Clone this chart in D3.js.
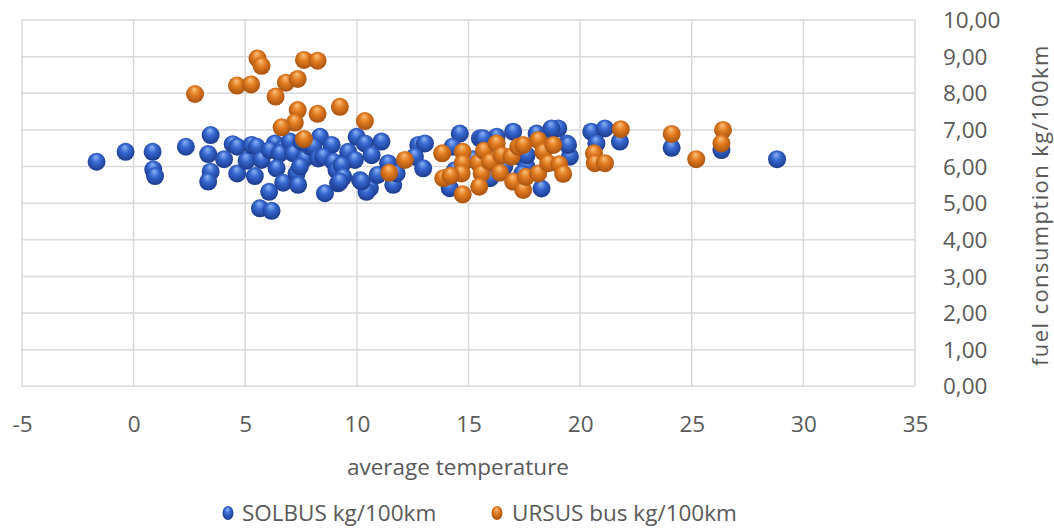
<!DOCTYPE html>
<html><head><meta charset="utf-8">
<script src="https://cdn.jsdelivr.net/npm/d3@7"></script>
<style>
html,body{margin:0;padding:0;background:#fff;}
svg text{font-family:"Open Sans","Noto Sans",sans-serif;fill:#595959;}
</style></head>
<body><svg id="c" width="1054" height="530"></svg>
<script>
// ---- data ----
const xTicks = [-5, 0, 5, 10, 15, 20, 25, 30, 35];
const yTicks = [0, 1, 2, 3, 4, 5, 6, 7, 8, 9, 10];
const seriesNames = ["SOLBUS kg/100km", "URSUS bus kg/100km"];

const solbusTemp = [-1.66,-0.36,0.85,0.88,0.96,2.34,3.45,3.34,3.45,3.34,4.05,4.44,4.64,4.64,5.06,5.28,5.51,5.43,5.73,6.07,5.66,6.18,6.33,6.10,6.70,6.55,6.40,6.70,7.00,7.15,7.30,7.37,7.67,7.52,7.90,7.45,8.35,8.05,8.87,8.27,8.49,8.94,8.57,9.09,9.16,9.54,9.99,10.36,11.10,10.66,9.61,9.91,9.32,9.39,10.14,10.58,10.93,11.63,11.40,11.78,12.75,13.05,12.60,12.97,14.61,15.51,16.26,17.00,14.28,17.30,17.60,14.16,15.96,18.05,18.57,19.02,19.40,19.54,18.27,20.50,21.11,20.73,21.78,24.10,26.33,28.82,15.66,19.46,17.60,10.43,10.21,9.24,18.72,14.40,16.60,17.40,15.20];
const solbusFuel = [6.13,6.40,6.40,5.92,5.74,6.54,6.86,6.34,5.86,5.59,6.20,6.61,6.54,5.81,6.16,6.59,6.54,5.74,6.18,5.31,4.86,4.79,6.63,6.45,6.50,6.36,5.95,5.56,6.68,6.36,5.81,5.50,6.22,6.68,6.54,6.00,6.81,6.54,6.59,6.22,6.27,6.13,5.27,5.90,5.54,6.18,6.81,6.63,6.68,6.31,6.40,6.18,6.04,5.72,5.63,5.41,5.77,5.50,6.09,5.81,6.59,6.63,6.27,5.95,6.90,6.77,6.81,6.95,6.54,6.27,6.00,5.41,5.68,6.90,6.90,7.04,6.63,6.27,5.40,6.95,7.04,6.63,6.68,6.51,6.45,6.20,6.77,6.59,6.31,5.31,5.59,5.59,7.04,5.90,6.00,5.80,6.20];

const ursusTemp = [2.75,4.63,5.26,5.55,5.73,6.36,6.82,7.35,7.63,8.24,7.35,8.24,9.24,10.36,7.22,6.63,7.63,12.15,11.45,13.82,13.87,14.74,14.74,14.69,14.74,15.44,15.59,15.48,15.69,16.26,15.96,16.48,16.41,16.93,17.23,17.00,17.45,17.57,18.12,18.35,18.80,18.12,18.57,19.06,19.24,17.45,20.62,20.66,21.11,21.82,24.10,25.20,26.40,26.33,14.20];
const ursusFuel = [7.98,8.21,8.24,8.95,8.75,7.91,8.29,8.39,8.91,8.89,7.54,7.44,7.63,7.24,7.20,7.07,6.75,6.18,5.83,6.36,5.68,6.40,6.09,5.81,5.24,6.10,5.81,5.45,6.43,6.63,6.13,6.31,5.83,6.27,6.54,5.59,5.36,5.72,6.72,6.40,6.59,5.81,6.09,6.06,5.80,6.59,6.36,6.09,6.09,7.02,6.89,6.20,7.00,6.63,5.75];

// ---- layout ----
const svg = d3.select("#c");
const x = d3.scaleLinear().domain([-5, 35]).range([22, 915]);
const y = d3.scaleLinear().domain([0, 10]).range([386.3, 20]);
const fmt = v => d3.format(".2f")(v).replace(".", ",");

const defs = svg.append("defs");
function grad(id, hi, mid, edge) {
  const g = defs.append("radialGradient").attr("id", id)
    .attr("cx", "50%").attr("cy", "45%").attr("r", "55%")
    .attr("fx", "45%").attr("fy", "22%");
  g.append("stop").attr("offset", "0%").attr("stop-color", hi);
  g.append("stop").attr("offset", "45%").attr("stop-color", mid);
  g.append("stop").attr("offset", "100%").attr("stop-color", edge);
}
grad("gBlue", "#8fb4f5", "#3768d0", "#1b3a8c");
grad("gOrange", "#fbc27c", "#e27d22", "#a8520f");

// grid
const grid = svg.append("g").attr("stroke", "#d9d9d9").attr("stroke-width", 1.5);
grid.selectAll("line.h").data(yTicks).join("line")
  .attr("x1", x(-5)).attr("x2", x(35)).attr("y1", d => y(d)).attr("y2", d => y(d));
grid.selectAll("line.v").data(xTicks).join("line")
  .attr("y1", y(0)).attr("y2", y(10)).attr("x1", d => x(d)).attr("x2", d => x(d));

// x axis labels
const xAxis = d3.axisBottom(x).tickValues(xTicks).tickSize(0).tickPadding(0).tickFormat(d => String(d));
const gx = svg.append("g").attr("transform", `translate(0,${y(0) + 24})`).call(xAxis);
gx.select(".domain").remove();
gx.selectAll("text").attr("font-size", 22.5).attr("fill", "#595959")
  .attr("font-family", "Open Sans").attr("dy", "0.32em").attr("y", 14);

// y axis labels (right, left-aligned)
const yAxis = d3.axisRight(y).tickValues(yTicks).tickSize(0).tickPadding(0).tickFormat(fmt);
const gy = svg.append("g").attr("transform", `translate(943,0)`).call(yAxis);
gy.select(".domain").remove();
gy.selectAll("text").attr("font-size", 22.5).attr("fill", "#595959")
  .attr("font-family", "Open Sans").attr("x", 0).attr("text-anchor", "start").attr("dy", "0.34em");

// axis titles
svg.append("text").attr("x", 458).attr("y", 467).attr("dy", "0.35em")
  .attr("text-anchor", "middle").attr("font-size", 22.5).text("average temperature");
svg.append("text").attr("transform", `translate(1040,${(y(0) + y(10)) / 2 + 2}) rotate(-90)`)
  .attr("dy", "0.35em").attr("text-anchor", "middle").attr("font-size", 22)
  .attr("letter-spacing", 1.4).text("fuel consumption kg/100km");

// points
const solbus = solbusTemp.map((t, i) => ({ t, v: solbusFuel[i] }));
const ursus = ursusTemp.map((t, i) => ({ t, v: ursusFuel[i] }));
const r = 9;
function drawSeries(data, fill) {
  svg.append("g").selectAll("circle").data(data).join("circle")
    .attr("cx", d => x(d.t)).attr("cy", d => y(d.v)).attr("r", r)
    .attr("fill", fill);
}
drawSeries(solbus, "url(#gBlue)");
drawSeries(ursus, "url(#gOrange)");

// legend
const legend = svg.append("g");
const legItems = [
  { name: seriesNames[0], fill: "url(#gBlue)", cx: 228, tx: 242 },
  { name: seriesNames[1], fill: "url(#gOrange)", cx: 497, tx: 512 }
];
legItems.forEach(it => {
  legend.append("ellipse").attr("cx", it.cx).attr("cy", 513).attr("rx", 5.5).attr("ry", 7).attr("fill", it.fill);
  legend.append("text").attr("x", it.tx).attr("y", 513).attr("dy", "0.35em")
    .attr("font-size", 22.5).text(it.name);
});
</script></body></html>
